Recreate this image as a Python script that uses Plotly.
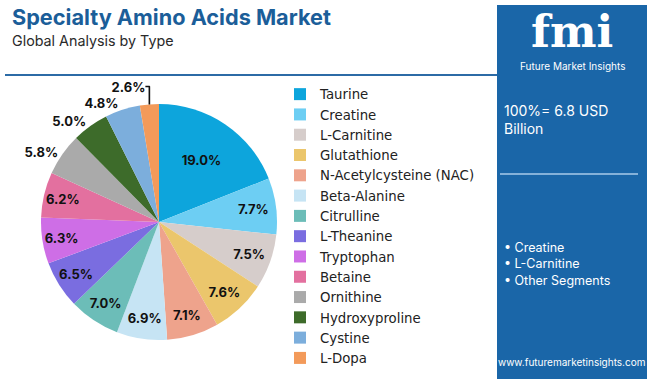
import plotly.graph_objects as go

categories = ["Taurine", "Creatine", "L-Carnitine", "Glutathione", "N-Acetylcysteine (NAC)",
              "Beta-Alanine", "Citrulline", "L-Theanine", "Tryptophan", "Betaine",
              "Ornithine", "Hydroxyproline", "Cystine", "L-Dopa"]
shares = [19.0, 7.7, 7.5, 7.6, 7.1, 6.9, 7.0, 6.5, 6.3, 6.2, 5.8, 5.0, 4.8, 2.6]
colors = ["#0DA5DC", "#6DCEF3", "#D6CDCB", "#EBC66C", "#EEA38C", "#C6E4F4", "#6CBDB8",
          "#7A6DE0", "#CE6EE6", "#E3709F", "#AAAAAA", "#3D6B2A", "#7CAEDC", "#F39A5A"]
text_pos = ["inside"] * 10 + ["outside"] * 4

title = "Specialty Amino Acids Market"
subtitle = "Global Analysis by Type"
panel_total = "100%= 6.8 USD<br>Billion"
panel_bullets = ["Creatine", "L-Carnitine", "Other Segments"]
website = "www.futuremarketinsights.com"

W, H = 650, 379
FONT = "Inter, Lato, sans-serif"
WIDE = "DejaVu Sans, sans-serif"

fig = go.Figure()
fig.add_trace(go.Pie(
    labels=categories, values=shares, sort=False, direction="clockwise", rotation=0,
    marker=dict(colors=colors, line=dict(width=0)),
    texttemplate="<b>%{value:.1f}%</b>", textposition=text_pos,
    insidetextorientation="horizontal",
    textfont=dict(family=FONT, size=13, color="#111111"),
    hoverinfo="label+value",
    domain=dict(x=[41 / W, 277 / W], y=[1 - 340 / H, 1 - 104 / H]),
))

shapes = [
    dict(type="rect", xref="paper", yref="paper", x0=497 / W, x1=647 / W, y0=0, y1=1 - 5 / H,
         fillcolor="#1A66A8", line=dict(width=0), layer="below"),
    dict(type="line", xref="paper", yref="paper", x0=5 / W, x1=497 / W, y0=1 - 75 / H, y1=1 - 75 / H,
         line=dict(color="#2C6BA6", width=2)),
    dict(type="line", xref="paper", yref="paper", x0=500 / W, x1=638 / W, y0=1 - 174 / H, y1=1 - 174 / H,
         line=dict(color="#A9CBEA", width=1.5)),
]

def ann(text, x, y, size, color, xanchor="left", yanchor="middle", family=FONT, align="left"):
    return dict(text=text, x=x / W, y=1 - y / H, xref="paper", yref="paper", showarrow=False,
                xanchor=xanchor, yanchor=yanchor, align=align,
                font=dict(family=family, size=size, color=color))

annotations = [
    ann("<b>" + title + "</b>", 10, 17, 21.7, "#1B5E99"),
    ann(subtitle, 10, 41, 14.3, "#2A2A2A"),
    ann("<b>fmi</b>", 572, 31, 44, "#FFFFFF", xanchor="center", family="DejaVu Serif"),
    ann("Future Market Insights", 572, 66, 10, "#FFFFFF", xanchor="center"),
    ann(panel_total, 502, 119, 14, "#FFFFFF"),
    ann("<br>".join("• " + b for b in panel_bullets), 502, 264, 12.5, "#FFFFFF"),
    ann(website, 571, 362, 10, "#FFFFFF", xanchor="center"),
]

fig.update_layout(
    width=W, height=H, autosize=False,
    margin=dict(l=0, r=0, t=0, b=0),
    paper_bgcolor="#FFFFFF", plot_bgcolor="#FFFFFF",
    shapes=shapes, annotations=annotations,
    showlegend=True,
    legend=dict(x=280 / W, y=1 - 79 / H, xanchor="left", yanchor="top",
                font=dict(family=WIDE, size=13.3, color="#222222"),
                bgcolor="rgba(0,0,0,0)", itemclick=False, tracegroupgap=0),
    font=dict(family=FONT),
)

fig.write_html("out.html", config={"displayModeBar": False},
               post_script="document.body.style.margin='0';document.body.style.overflow='hidden';")
